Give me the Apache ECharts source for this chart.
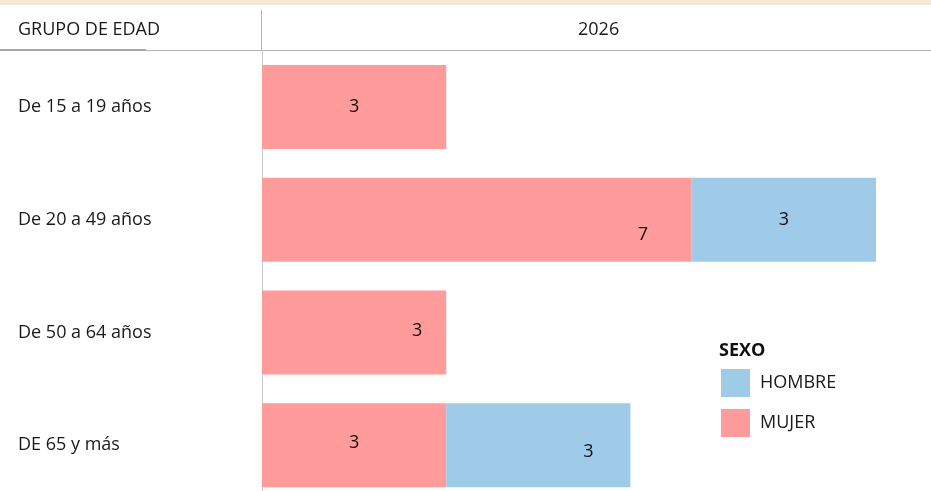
<!DOCTYPE html>
<html>
<head>
<meta charset="utf-8">
<script src="https://cdn.jsdelivr.net/npm/echarts@6/dist/echarts.min.js"></script>
<style>
  html, body { margin: 0; padding: 0; background: #fff; }
  #chart { width: 931px; height: 491px; }
</style>
</head>
<body>
<div id="chart"></div>
<script>
// datos del gráfico
const categories = ['De 15 a 19 años', 'De 20 a 49 años', 'De 50 a 64 años', 'DE 65 y más'];
const mujer = [3, 7, 3, 3];
const hombre = [null, 3, null, 3];
const yearLabel = '2026';

const font = '"Open Sans", "Noto Sans", sans-serif';
const fs = 18;
const colors = { mujer: '#FF9B9A', hombre: '#9FCAE8' };

// desplazamientos de etiquetas como en el original
const mujerOffsets = [[0, 0], [166, 15], [63, -2], [0, -2]];
const hombreOffsets = [[0, 0], [0, 0], [0, 0], [50, 7]];

const chart = echarts.init(document.getElementById('chart'));

chart.setOption({
  animation: false,
  textStyle: { fontFamily: font },
  grid: { left: 262, top: 50.5, width: 614, height: 451, outerBoundsMode: 'none' },
  legend: {
    orient: 'vertical',
    left: 721,
    top: 369,
    padding: 0,
    itemWidth: 29,
    itemHeight: 28,
    itemGap: 12,
    icon: 'rect',
    data: ['HOMBRE', 'MUJER'],
    textStyle: { fontFamily: font, fontSize: fs, color: '#1a1a1a', padding: [0, 0, 0, 5] },
  },
  xAxis: {
    type: 'value',
    min: 0,
    max: 10,
    show: false,
  },
  yAxis: {
    type: 'category',
    inverse: true,
    data: categories,
    axisLine: { show: true, lineStyle: { color: '#c8c8c8', width: 1 } },
    axisTick: { show: false },
    axisLabel: {
      align: 'left',
      margin: 244,
      fontSize: fs,
      color: '#1a1a1a',
      fontFamily: font,
    },
  },
  graphic: [
    { type: 'rect', shape: { x: 0, y: 0, width: 931, height: 5 }, style: { fill: '#F5E8D6' } },
    { type: 'rect', shape: { x: 0, y: 50, width: 931, height: 1 }, style: { fill: '#b4b4b4' } },
    { type: 'rect', shape: { x: 0, y: 49, width: 146, height: 2 }, style: { fill: '#a8a8a8' } },
    { type: 'rect', shape: { x: 261, y: 10, width: 1, height: 41 }, style: { fill: '#b4b4b4' } },
    {
      type: 'text', left: 18, top: 21,
      style: { text: 'GRUPO DE EDAD', font: fs + 'px ' + font, fill: '#1a1a1a' },
    },
    {
      type: 'text', left: 578, top: 21,
      style: { text: yearLabel, font: fs + 'px ' + font, fill: '#1a1a1a' },
    },
    {
      type: 'text', left: 719, top: 342,
      style: { text: 'SEXO', font: 'bold ' + fs + 'px ' + font, fill: '#111' },
    },
  ],
  series: [
    {
      name: 'MUJER',
      type: 'bar',
      stack: 'total',
      barWidth: 84,
      itemStyle: { color: colors.mujer },
      data: mujer.map((v, i) => ({ value: v, label: { offset: mujerOffsets[i] } })),
      label: { show: true, position: 'inside', fontSize: fs, color: '#111', fontFamily: font },
    },
    {
      name: 'HOMBRE',
      type: 'bar',
      stack: 'total',
      barWidth: 84,
      itemStyle: { color: colors.hombre },
      data: hombre.map((v, i) => ({ value: v, label: { offset: hombreOffsets[i] } })),
      label: { show: true, position: 'inside', fontSize: fs, color: '#111', fontFamily: font },
    },
  ],
});
</script>
</body>
</html>
